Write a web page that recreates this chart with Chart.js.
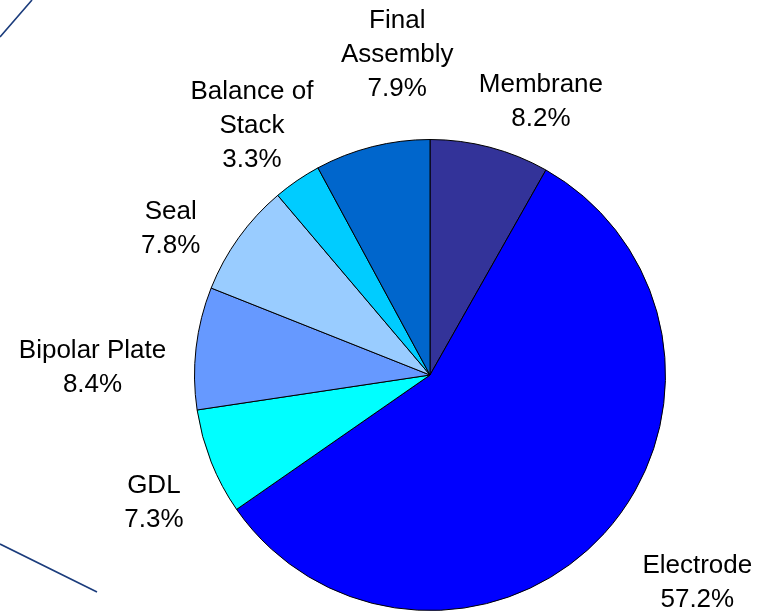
<!DOCTYPE html>
<html>
<head>
<meta charset="utf-8">
<script src="https://cdn.jsdelivr.net/npm/chart.js@4"></script>
<style>
  html, body { margin: 0; padding: 0; background: #fff; }
  #wrap { width: 768px; height: 613px; position: relative; }
</style>
</head>
<body>
<div id="wrap"><canvas id="pie"></canvas></div>
<script>
// slices, clockwise from 12 o'clock
const categories = [
  "Membrane",
  "Electrode",
  "GDL",
  "Bipolar Plate",
  "Seal",
  ["Balance of", "Stack"],
  ["Final", "Assembly"],
];
const shares = [8.2, 57.2, 7.3, 8.4, 7.8, 3.3, 7.9];
const sliceColors = ["#333399", "#0000FF", "#00FFFF", "#6699FF", "#99CCFF", "#00CCFF", "#0066CC"];

// hand nudges for the label boxes (Excel's best-fit is not quite radial)
const labelNudge = [[35, 15], [36, -3], [-7, 21], [-13, 30], [-21, 25], [6, 20], [44, -17]];

const FONT = "26px 'Liberation Sans', Arial, sans-serif";
const LINE_H = 34;

// the two thin navy strokes in the corners of the slide
const cornerLines = {
  id: "cornerLines",
  beforeDraw(chart) {
    const c = chart.ctx;
    c.save();
    c.strokeStyle = "#1b3c7c";
    c.lineWidth = 1.6;
    c.beginPath();
    c.moveTo(0, 37);
    c.lineTo(32, 0);
    c.moveTo(0, 544);
    c.lineTo(97, 592);
    c.stroke();
    c.restore();
  },
};

// outside labels: name + percent, pushed out along each slice's mid angle
const outsideLabels = {
  id: "outsideLabels",
  afterDatasetsDraw(chart) {
    const c = chart.ctx;
    const meta = chart.getDatasetMeta(0);
    c.save();
    c.font = FONT;
    c.fillStyle = "#000";
    c.textAlign = "center";
    c.textBaseline = "middle";
    meta.data.forEach((arc, i) => {
      const p = arc.getProps(["x", "y", "startAngle", "endAngle", "outerRadius"], true);
      const mid = (p.startAngle + p.endAngle) / 2;
      const name = categories[i];
      const lines = (Array.isArray(name) ? name : [name]).concat(shares[i].toFixed(1) + "%");
      const w = Math.max(...lines.map((l) => c.measureText(l).width));
      const h = lines.length * LINE_H;
      const cos = Math.cos(mid), sin = Math.sin(mid);
      const ext = Math.abs(cos) * w / 2 + Math.abs(sin) * h / 2;
      const d = p.outerRadius + 14 + ext;
      const cx = p.x + cos * d + labelNudge[i][0];
      const cy = p.y + sin * d + labelNudge[i][1];
      lines.forEach((l, k) => {
        c.fillText(l, cx, cy - h / 2 + LINE_H * (k + 0.5));
      });
    });
    c.restore();
  },
};

new Chart(document.getElementById("pie"), {
  type: "pie",
  data: {
    labels: categories,
    datasets: [
      {
        data: shares,
        backgroundColor: sliceColors,
        borderColor: "#000",
        borderWidth: 1,
      },
    ],
  },
  options: {
    responsive: true,
    maintainAspectRatio: false,
    animation: false,
    layout: { padding: { left: 194, right: 102, top: 139, bottom: 2 } },
    plugins: {
      legend: { display: false },
      tooltip: { enabled: false },
    },
  },
  plugins: [cornerLines, outsideLabels],
});
</script>
</body>
</html>
